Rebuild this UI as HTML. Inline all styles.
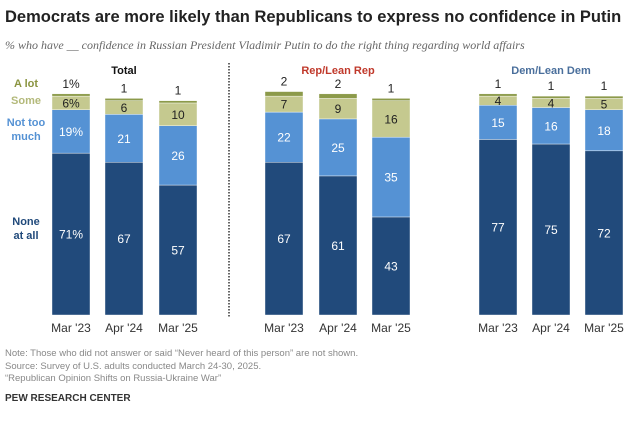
<!DOCTYPE html>
<html><head><meta charset="utf-8"><style>
body{margin:0;width:640px;height:422px;background:#fff;font-family:"Liberation Sans",sans-serif;overflow:hidden;position:relative}
.t{position:absolute;white-space:nowrap}
</style></head><body>
<div class="t" style="left:5px;top:8px;font-size:16.5px;font-weight:bold;color:#222">Democrats are more likely than Republicans to express no confidence in Putin</div>
<div class="t" style="left:5px;top:38px;font-size:12px;font-style:italic;color:#666;font-family:'Liberation Serif',serif">% who have __ confidence in Russian President Vladimir Putin to do the right thing regarding world affairs</div>
<svg id="c" width="640" height="350" style="position:absolute;left:0;top:0"></svg>
<div class="t" style="left:5px;top:348px;font-size:9.5px;color:#888;line-height:12.5px">Note: Those who did not answer or said “Never heard of this person” are not shown.<br>Source: Survey of U.S. adults conducted March 24-30, 2025.<br>“Republican Opinion Shifts on Russia-Ukraine War”</div>
<div class="t" style="left:5px;top:393px;font-size:10px;font-weight:bold;color:#333">PEW RESEARCH CENTER</div>
<script>
const groups=["Total","Rep/Lean Rep","Dem/Lean Dem"];
const years=["Mar '23","Apr '24","Mar '25"];
const noneAtAll=[71,67,57,67,61,43,77,75,72];
const notTooMuch=[19,21,26,22,25,35,15,16,18];
const some=[6,6,10,7,9,16,4,4,5];
const aLot=[1,1,1,2,2,1,1,1,1];
const svg=document.getElementById('c');const NS='http://www.w3.org/2000/svg';
const base=315,scale=2.28,bw=38;
const barX=[52,105,159,265,319,372,479,532,585];
const y=v=>base-v*scale;
function el(t,a,txt){const e=document.createElementNS(NS,t);for(const k in a)e.setAttribute(k,a[k]);if(txt!=null)e.textContent=txt;svg.appendChild(e);return e;}
const series=[[noneAtAll,'#214a7b','#fff'],[notTooMuch,'#5592d4','#fff'],[some,'#c5c98f','#222'],[aLot,'#8c9a4a','#222']];
const segNames=['none-at-all','not-too-much','some','a-lot'];
for(let i=0;i<9;i++){let cum=0;
 series.forEach(([arr,col,tc],s)=>{const v=arr[i];const y0=y(cum),y1=y(cum+v);
  const r=el('rect',{x:barX[i],y:y1,width:bw,height:y0-y1,fill:col,stroke:'#fff','stroke-width':0.4});
  
  
  const lab=(i==0&&s<3)?v+'%':String(v);
  if(s<3){const t=el('text',{x:barX[i]+bw/2,y:(y0+y1)/2+4.5,'text-anchor':'middle','font-size':12,fill:tc},lab);
   }
  else{const t=el('text',{x:barX[i]+bw/2,y:y1-6,'text-anchor':'middle','font-size':12,fill:'#222'},i==0?v+'%':String(v));
   }
  cum+=v;});
 const xl=el('text',{x:barX[i]+bw/2,y:332,'text-anchor':'middle','font-size':12,fill:'#333'},years[i%3]);
 
}
const gcol=['#111','#c0392b','#4a6f9c'];
groups.forEach((g,k)=>{const t=el('text',{x:barX[k*3+1]+bw/2,y:74,'text-anchor':'middle','font-size':11,'font-weight':'bold',fill:gcol[k]},g);
 });
const d=el('line',{x1:229,y1:63,x2:229,y2:318,stroke:'#333','stroke-width':1.5,'stroke-dasharray':'1.5,1.5'});

const leg=[['A lot',87,'#8a9440'],['Some',104,'#b3b97a'],['Not too',126,'#5592d4'],['much',140,'#5592d4'],['None',225,'#214a7b'],['at all',239,'#214a7b']];
leg.forEach(([s,yy,c])=>{const t=el('text',{x:26,y:yy,'text-anchor':'middle','font-size':11,'font-weight':'bold',fill:c},s);
 });
</script>
</body></html>
